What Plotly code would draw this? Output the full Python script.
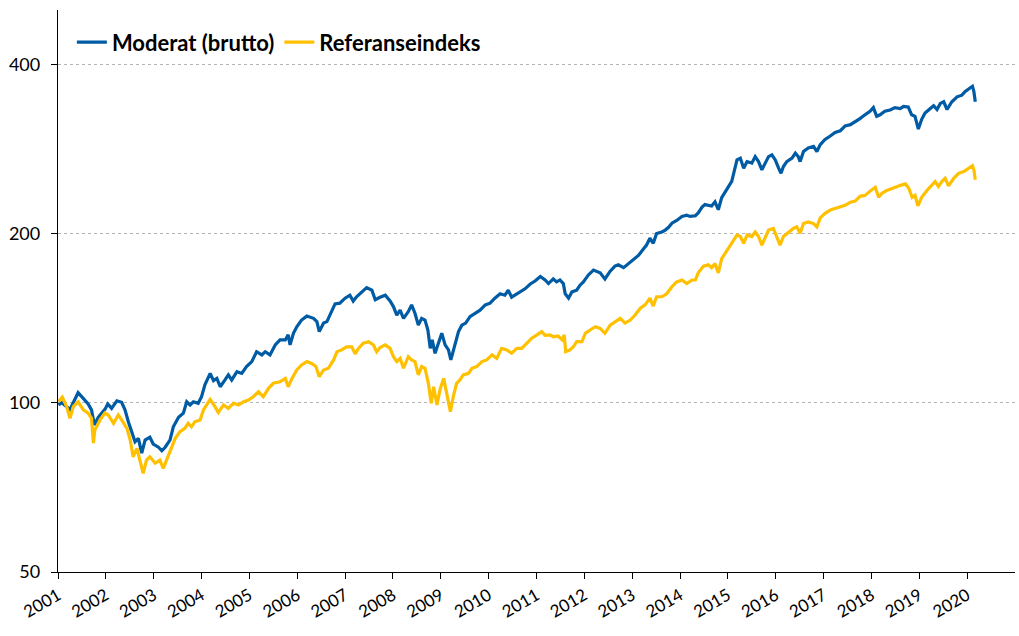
import plotly.graph_objects as go

# ---- data (decimal years, index values) ----
moderat_t = [2001.01, 2001.08, 2001.25, 2001.42, 2001.63, 2001.70, 2001.76, 2001.84, 2001.98,
             2002.04, 2002.12, 2002.23, 2002.33, 2002.40, 2002.47, 2002.54, 2002.61, 2002.68,
             2002.75, 2002.82, 2002.92, 2002.99, 2003.10, 2003.17, 2003.24, 2003.34, 2003.41,
             2003.52, 2003.62, 2003.69, 2003.76, 2003.83, 2003.93, 2004.00, 2004.07, 2004.18,
             2004.25, 2004.32, 2004.39, 2004.49, 2004.56, 2004.63, 2004.74, 2004.84, 2004.94,
             2005.05, 2005.15, 2005.26, 2005.33, 2005.43, 2005.54, 2005.64, 2005.75, 2005.81,
             2005.85, 2005.92, 2005.99, 2006.09, 2006.20, 2006.34, 2006.41, 2006.46, 2006.55,
             2006.62, 2006.72, 2006.79, 2006.89, 2007.00, 2007.10, 2007.17, 2007.24, 2007.35,
             2007.45, 2007.56, 2007.63, 2007.73, 2007.84, 2007.94, 2008.01, 2008.08, 2008.15,
             2008.22, 2008.32, 2008.39, 2008.46, 2008.53, 2008.60, 2008.67, 2008.73, 2008.78,
             2008.82, 2008.88, 2008.95, 2009.02, 2009.09, 2009.16, 2009.21, 2009.30, 2009.37,
             2009.44, 2009.52, 2009.61, 2009.72, 2009.82, 2009.93, 2010.03, 2010.13, 2010.24,
             2010.34, 2010.41, 2010.48, 2010.55, 2010.66, 2010.76, 2010.87, 2010.97, 2011.08,
             2011.18, 2011.25, 2011.35, 2011.42, 2011.49, 2011.56, 2011.60, 2011.67, 2011.74,
             2011.84, 2011.91, 2011.98, 2012.08, 2012.19, 2012.26, 2012.33, 2012.43, 2012.54,
             2012.64, 2012.71, 2012.82, 2012.92, 2013.03, 2013.13, 2013.23, 2013.30, 2013.37,
             2013.44, 2013.51, 2013.62, 2013.69, 2013.76, 2013.83, 2013.93, 2014.04, 2014.14,
             2014.21, 2014.32, 2014.38, 2014.46, 2014.52, 2014.66, 2014.73, 2014.80, 2014.87,
             2014.98, 2015.08, 2015.19, 2015.26, 2015.33, 2015.40, 2015.50, 2015.57, 2015.64,
             2015.71, 2015.78, 2015.85, 2015.92, 2015.99, 2016.06, 2016.11, 2016.16, 2016.23,
             2016.34, 2016.41, 2016.47, 2016.51, 2016.58, 2016.68, 2016.79, 2016.86, 2016.93,
             2017.03, 2017.14, 2017.24, 2017.35, 2017.45, 2017.56, 2017.66, 2017.76, 2017.83,
             2017.97, 2018.04, 2018.11, 2018.18, 2018.28, 2018.39, 2018.49, 2018.60, 2018.67,
             2018.77, 2018.84, 2018.91, 2018.98, 2019.05, 2019.12, 2019.23, 2019.30, 2019.37,
             2019.44, 2019.51, 2019.58, 2019.68, 2019.79, 2019.89, 2019.96, 2020.06, 2020.11,
             2020.14, 2020.17]
moderat_v = [99.2, 100.1, 97.4, 104.3, 99.6, 97.2, 91.4, 94.3, 97.4,
             99.6, 97.8, 100.9, 100.3, 97.2, 92.6, 88.9, 85.3, 86.5,
             81.4, 85.9, 86.9, 84.5, 83.4, 82.2, 83.4, 85.9, 90.7,
             94.3, 95.9, 100.5, 99.2, 100.5, 99.9, 102.6, 107.7, 112.9,
             109.6, 110.6, 106.9, 109.9, 112.2, 109.9, 113.7, 112.9, 116.1,
             118.5, 123.4, 121.8, 123.4, 121.8, 126.9, 129.5, 129.5, 132.2,
             126.9, 133.1, 136.7, 140.5, 142.8, 141.5, 139.6, 134.0, 138.8,
             139.6, 145.4, 150.1, 150.6, 153.7, 155.6, 151.9, 154.6, 157.7,
             160.5, 158.8, 152.7, 154.3, 155.6, 151.9, 148.5, 143.4, 146.3,
             141.5, 145.4, 149.5, 144.5, 137.6, 141.5, 140.5, 134.9, 125.1,
             129.5, 122.6, 127.8, 133.1, 126.9, 124.3, 119.3, 126.9, 134.0,
             137.6, 138.8, 142.5, 144.5, 146.3, 149.5, 150.6, 153.7, 156.5,
             155.6, 158.8, 154.3, 155.6, 157.7, 159.7, 162.9, 164.9, 168.0,
             165.6, 163.2, 166.3, 164.3, 165.6, 163.2, 156.5, 153.7, 157.7,
             158.8, 162.1, 164.3, 168.9, 172.5, 171.7, 170.5, 166.3, 171.7,
             175.3, 176.2, 174.2, 177.1, 180.7, 183.1, 187.8, 191.1, 196.5,
             192.5, 200.4, 201.6, 203.2, 205.5, 209.0, 211.4, 214.9, 216.0,
             214.9, 215.5, 218.0, 223.3, 225.6, 224.3, 228.2, 220.9, 232.1,
             240.1, 248.1, 271.0, 272.9, 261.9, 269.1, 267.4, 274.7, 269.1,
             260.2, 267.4, 274.7, 276.6, 271.0, 261.9, 256.6, 263.7, 269.1,
             272.9, 278.6, 274.7, 269.1, 280.4, 284.5, 286.5, 280.4, 288.5,
             294.6, 298.8, 303.2, 305.4, 311.4, 313.1, 316.6, 321.0, 324.3,
             330.8, 335.8, 324.0, 326.0, 330.8, 332.6, 335.8, 334.5, 337.3,
             336.5, 326.0, 324.0, 307.5, 320.1, 328.4, 334.5, 338.3, 333.2,
             341.6, 343.9, 333.2, 343.9, 350.9, 353.4, 358.8, 364.0, 366.5,
             358.8, 343.9]

referanse_t = [2001.01, 2001.09, 2001.18, 2001.25, 2001.32, 2001.42, 2001.53, 2001.63, 2001.70,
               2001.74, 2001.77, 2001.88, 2001.98, 2002.05, 2002.16, 2002.26, 2002.33, 2002.44,
               2002.51, 2002.57, 2002.65, 2002.71, 2002.78, 2002.85, 2002.92, 2003.03, 2003.13,
               2003.20, 2003.27, 2003.34, 2003.45, 2003.55, 2003.65, 2003.72, 2003.79, 2003.86,
               2003.97, 2004.04, 2004.11, 2004.18, 2004.28, 2004.35, 2004.46, 2004.56, 2004.67,
               2004.77, 2004.88, 2004.98, 2005.08, 2005.19, 2005.29, 2005.40, 2005.50, 2005.64,
               2005.75, 2005.81, 2005.89, 2005.99, 2006.09, 2006.20, 2006.30, 2006.39, 2006.46,
               2006.55, 2006.65, 2006.76, 2006.83, 2006.93, 2007.03, 2007.14, 2007.21, 2007.28,
               2007.38, 2007.49, 2007.59, 2007.66, 2007.73, 2007.84, 2007.94, 2008.01, 2008.08,
               2008.15, 2008.22, 2008.32, 2008.39, 2008.46, 2008.53, 2008.60, 2008.67, 2008.74,
               2008.80, 2008.85, 2008.92, 2008.99, 2009.06, 2009.13, 2009.20, 2009.26, 2009.33,
               2009.40, 2009.47, 2009.58, 2009.65, 2009.75, 2009.86, 2009.96, 2010.07, 2010.17,
               2010.27, 2010.38, 2010.48, 2010.59, 2010.69, 2010.80, 2010.90, 2011.01, 2011.11,
               2011.18, 2011.28, 2011.35, 2011.45, 2011.54, 2011.58, 2011.61, 2011.70, 2011.77,
               2011.84, 2011.95, 2012.02, 2012.12, 2012.23, 2012.33, 2012.43, 2012.54, 2012.64,
               2012.75, 2012.85, 2012.96, 2013.06, 2013.17, 2013.27, 2013.37, 2013.44, 2013.51,
               2013.62, 2013.72, 2013.83, 2013.93, 2014.04, 2014.14, 2014.25, 2014.32, 2014.38,
               2014.49, 2014.59, 2014.66, 2014.73, 2014.80, 2014.87, 2014.98, 2015.08, 2015.19,
               2015.26, 2015.33, 2015.40, 2015.50, 2015.57, 2015.64, 2015.71, 2015.78, 2015.85,
               2015.95, 2016.02, 2016.09, 2016.16, 2016.27, 2016.37, 2016.44, 2016.51, 2016.58,
               2016.68, 2016.79, 2016.86, 2016.93, 2017.03, 2017.14, 2017.24, 2017.35, 2017.45,
               2017.56, 2017.66, 2017.76, 2017.87, 2017.97, 2018.08, 2018.15, 2018.22, 2018.32,
               2018.43, 2018.53, 2018.64, 2018.71, 2018.78, 2018.85, 2018.91, 2018.97, 2019.05,
               2019.16, 2019.26, 2019.33, 2019.40, 2019.47, 2019.54, 2019.61, 2019.72, 2019.82,
               2019.93, 2020.03, 2020.11, 2020.14, 2020.17]
referanse_v = [100.5, 102.4, 98.5, 93.9, 98.5, 100.5, 97.2, 95.9, 93.9,
               84.8, 89.5, 93.3, 95.9, 95.2, 92.0, 95.2, 93.3, 90.1,
               85.9, 80.2, 83.0, 79.1, 74.9, 79.1, 80.2, 78.1, 79.1,
               76.5, 79.1, 81.4, 86.5, 88.9, 90.1, 92.0, 90.7, 92.6,
               93.3, 97.2, 99.2, 101.5, 98.5, 96.2, 99.2, 97.8, 99.9,
               99.2, 100.5, 101.2, 102.6, 104.7, 102.6, 106.2, 108.4, 109.1,
               110.6, 106.9, 110.6, 114.5, 116.9, 118.5, 117.6, 116.1, 111.4,
               114.5, 115.3, 119.3, 123.4, 124.3, 125.9, 125.9, 122.3, 125.1,
               127.8, 128.6, 126.9, 123.4, 125.5, 126.9, 125.1, 120.9, 118.5,
               120.1, 115.3, 120.9, 119.3, 118.5, 112.2, 116.1, 115.3, 108.4,
               99.9, 106.9, 99.2, 106.2, 110.6, 102.6, 96.5, 102.6, 108.4,
               109.9, 112.2, 112.9, 115.3, 116.1, 118.5, 119.3, 121.8, 120.1,
               125.1, 124.3, 122.6, 125.1, 125.1, 127.8, 130.4, 132.2, 134.0,
               132.0, 132.2, 131.2, 131.6, 129.5, 132.2, 123.4, 124.3, 125.9,
               128.6, 128.6, 133.1, 134.9, 136.7, 135.8, 133.1, 137.6, 139.6,
               141.5, 138.8, 140.5, 143.4, 147.5, 149.5, 153.7, 148.8, 154.6,
               154.6, 156.5, 161.1, 164.3, 165.6, 163.2, 165.6, 165.6, 170.5,
               175.3, 176.2, 174.2, 177.1, 170.5, 180.7, 187.1, 192.5, 199.2,
               197.9, 192.5, 199.2, 197.9, 201.6, 197.9, 191.1, 197.9, 203.2,
               204.6, 197.9, 191.1, 197.9, 201.6, 204.6, 205.9, 200.6, 208.7,
               210.1, 208.7, 205.9, 213.6, 217.7, 220.6, 222.0, 223.5, 224.9,
               227.8, 228.8, 233.4, 234.3, 238.4, 242.2, 232.5, 236.3, 239.1,
               241.2, 243.0, 244.6, 245.6, 241.2, 232.5, 234.3, 224.5, 232.5,
               239.1, 244.6, 247.9, 243.0, 247.9, 251.3, 243.5, 251.3, 256.5,
               258.4, 262.2, 264.6, 260.2, 249.7]

years = list(range(2001, 2021))
y_ticks = [50, 100, 200, 400]

series_names = ["Moderat (brutto)", "Referanseindeks"]
colors = ["#005BA5", "#FFC000"]

FONT = "Lato"

fig = go.Figure()
fig.add_trace(go.Scatter(x=moderat_t, y=moderat_v, mode="lines", name=series_names[0],
                         line=dict(color=colors[0], width=3.2)))
fig.add_trace(go.Scatter(x=referanse_t, y=referanse_v, mode="lines", name=series_names[1],
                         line=dict(color=colors[1], width=3.2)))

fig.update_layout(
    width=1019, height=636,
    margin=dict(l=58, r=4, t=10, b=64, autoexpand=False),
    paper_bgcolor="white", plot_bgcolor="white",
    font=dict(family=FONT, size=16, color="#000000"),
    showlegend=True,
    legend=dict(orientation="h", x=0.0145, y=0.98, xanchor="left", yanchor="top",
                font=dict(family=FONT, size=22, color="#000000", weight="bold"),
                bgcolor="rgba(0,0,0,0)", itemwidth=30, tracegroupgap=0),
    xaxis=dict(range=[2001, 2021], tickmode="array", tickvals=years,
               ticktext=[str(y) for y in years], tickangle=-30, automargin=False,
               showline=True, linecolor="#000000", linewidth=1.3,
               ticks="outside", ticklen=6, tickcolor="#000000", tickwidth=1.3,
               showgrid=False, zeroline=False,
               tickfont=dict(family=FONT, size=17, color="#000000")),
    yaxis=dict(type="log", range=[1.69897, 2.6999], tickmode="array", tickvals=y_ticks,
               ticktext=[str(v) for v in y_ticks], automargin=False,
               showline=True, linecolor="#000000", linewidth=1.3,
               ticks="outside", ticklen=6, tickcolor="#000000", tickwidth=1.3,
               showgrid=True, gridcolor="#B4B4B4", gridwidth=1, griddash="dot",
               zeroline=False, ticklabelstandoff=7,
               tickfont=dict(family=FONT, size=18, color="#000000")),
)

fig.write_html("out.html", config={"displayModeBar": False},
               post_script="document.body.style.margin='0';document.body.style.overflow='hidden';")
